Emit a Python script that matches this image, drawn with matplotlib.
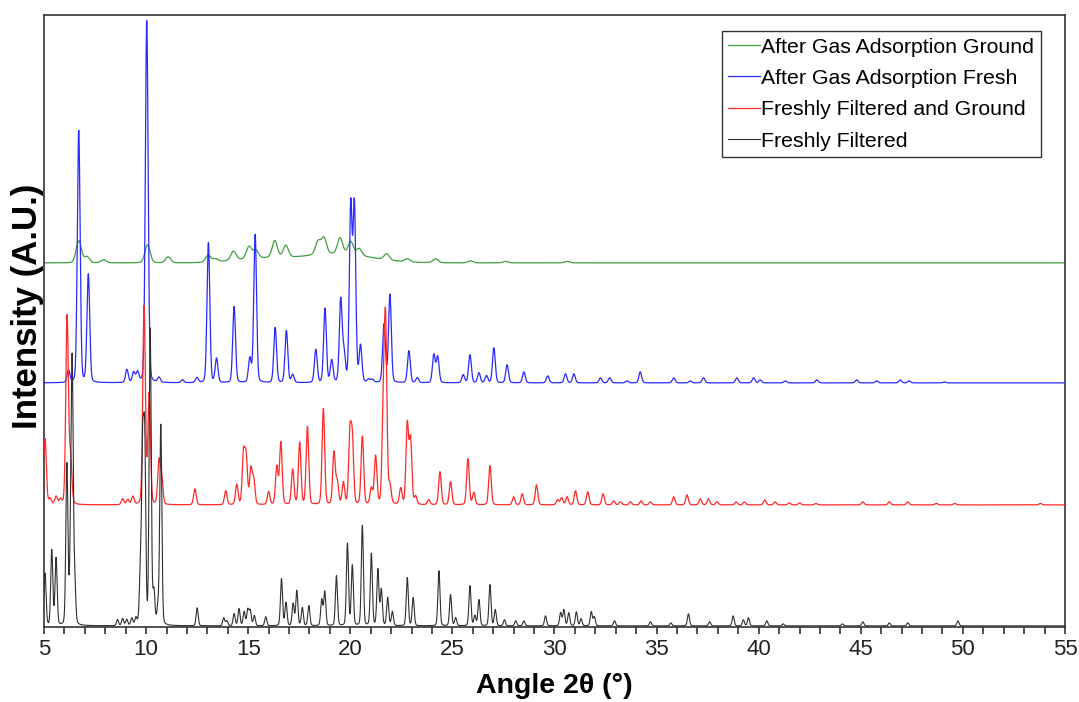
import numpy as np
import matplotlib
matplotlib.use("Agg")
import matplotlib.pyplot as plt
from matplotlib.ticker import MultipleLocator

plt.rcParams['font.family'] = ['Liberation Sans', 'DejaVu Sans']

# peak lists: 2theta position (deg) and height (A.U., pixel-ish scale)
filtered_pos = [5.05, 5.38, 5.59, 6.12, 6.3, 6.38, 6.5, 8.6, 8.85, 9.05, 9.3, 9.5,
                9.72, 9.83, 9.93, 10.2, 10.38, 10.58, 10.72, 12.5, 13.8, 13.95,
                14.31, 14.55, 14.8, 14.98, 15.1, 15.3, 15.86, 16.63, 16.85, 17.2, 17.38,
                17.65, 17.97, 18.6, 18.75, 19.32, 19.86, 20.1, 20.59, 21.03, 21.35,
                21.52, 21.83, 22.06, 22.79, 23.08, 24.34, 24.91, 25.16, 25.86, 26.1,
                26.3, 26.84, 27.1, 27.55, 28.1, 28.5, 29.56, 30.3, 30.46, 30.7, 31.07,
                31.3, 31.8, 31.95, 32.94, 34.7, 35.7, 36.56, 37.6, 38.75, 39.25, 39.5,
                40.4, 41.2, 44.1, 45.1, 46.4, 47.3, 49.76]
filtered_h = [52, 75, 67, 160, 60, 250, 40, 6, 7, 6, 7, 7,
              50, 165, 175, 295, 32, 16, 200, 18, 8, 5,
              12, 17, 14, 16, 15, 10, 9, 47, 23, 22, 35,
              18, 20, 26, 34, 50, 82, 60, 100, 72, 56,
              36, 28, 14, 48, 28, 55, 31, 8, 40, 10,
              26, 41, 16, 6, 5, 5, 10, 13, 16, 13, 14,
              7, 14, 9, 5, 4, 3, 12, 4, 10, 6, 8,
              5, 2, 2, 4, 3, 3, 5]

ground_pos = [5.05, 5.3, 5.59, 5.8, 6.13, 6.3, 8.85, 9.1, 9.35, 9.9, 10.15, 10.63,
              10.76, 12.39, 13.9, 14.44, 14.77, 14.9, 15.13, 15.27, 16.0, 16.4, 16.6,
              17.18, 17.52, 17.9, 18.68, 19.2, 19.36, 19.66, 19.98, 20.1, 20.59, 21.03,
              21.24, 21.62, 21.73, 21.94, 22.47, 22.79, 22.95, 23.2, 23.84, 24.39,
              24.91, 25.76, 26.05, 26.84, 28.0, 28.42, 29.12, 30.15, 30.35, 30.62,
              31.03, 31.63, 32.38, 32.9, 33.23, 33.72, 34.24, 34.7, 35.84, 36.49,
              37.14, 37.54, 37.96, 38.9, 39.3, 40.3, 40.8, 41.5, 42.0, 42.8, 45.1,
              46.4, 47.3, 48.7, 49.6, 53.8]
ground_h = [66, 6, 8, 5, 188, 45, 6, 5, 8, 198, 110, 42,
            26, 16, 14, 20, 50, 46, 35, 24, 13, 38, 62,
            35, 62, 78, 96, 52, 22, 22, 68, 62, 68, 16,
            48, 95, 170, 18, 16, 80, 64, 8, 5, 33,
            23, 46, 12, 39, 8, 11, 20, 5, 7, 8,
            14, 13, 11, 4, 3, 3, 4, 3, 8, 10,
            6, 6, 3, 3, 3, 5, 3, 2, 2, 1.5, 3,
            3, 3, 1.5, 1.5, 1.5]

gas_fresh_pos = [6.2, 6.7, 7.17, 9.06, 9.39, 9.58, 10.03, 10.63, 11.78, 12.49, 13.05,
                 13.45, 14.31, 15.08, 15.34, 16.32, 16.87, 17.18, 18.31, 18.76, 19.09,
                 19.53, 19.69, 20.02, 20.2, 20.5, 20.9, 21.08, 21.65, 21.94, 22.87,
                 23.28, 24.09, 24.28, 25.53, 25.86, 26.3, 26.67, 27.03, 27.68, 28.5,
                 29.67, 30.54, 30.95, 32.25, 32.7, 33.55, 34.2, 35.84, 36.65, 37.3,
                 38.93, 39.75, 40.08, 41.3, 42.85, 44.8, 45.78, 46.93, 47.37, 49.1]
gas_fresh_h = [12, 252, 108, 13, 10, 10, 362, 5, 3, 5, 140,
               24, 76, 24, 148, 55, 52, 8, 33, 74, 22,
               82, 28, 175, 175, 36, 3, 3, 58, 88, 32,
               5, 28, 26, 8, 28, 10, 7, 35, 18, 11,
               7, 9, 9, 5, 5, 2, 11, 5, 2, 5,
               5, 5, 3, 2, 3, 3, 2, 3, 2, 1]

gas_ground_pos = [6.7, 7.1, 7.92, 10.07, 11.08, 13.04, 13.4, 14.28, 15.04, 15.37, 16.3,
                  16.84, 18.42, 18.71, 19.5, 20.02, 20.43, 21.78, 22.79, 24.18, 25.89,
                  27.6, 30.62]
gas_ground_h = [22, 6, 3, 18, 6, 7, 3, 9, 12, 8, 17,
                12, 13, 16, 16, 13, 7, 6, 3, 4, 2,
                1.5, 1.5]
# broad amorphous hump under the ground sample
gas_ground_halo_pos = [15.5, 19.3]
gas_ground_halo_h = [4, 9]
gas_ground_halo_w = [3.0, 4.0]

labels = ["After Gas Adsorption Ground", "After Gas Adsorption Fresh",
          "Freshly Filtered and Ground", "Freshly Filtered"]
offsets = [364, 244, 122, 1]


def pattern(x, pos, h, fwhm):
    y = np.zeros_like(x)
    for c, a in zip(pos, h):
        g = np.exp(-4 * np.log(2) * (x - c) ** 2 / fwhm ** 2)
        l = 1 / (1 + 4 * (x - c) ** 2 / fwhm ** 2)
        y += a * (0.85 * g + 0.15 * l)
    return y


x = np.arange(5, 55.0001, 0.01)
y_filtered = pattern(x, filtered_pos, filtered_h, 0.12)
y_ground = pattern(x, ground_pos, ground_h, 0.15)
y_gas_fresh = pattern(x, gas_fresh_pos, gas_fresh_h, 0.16)
y_gas_ground = pattern(x, gas_ground_pos, gas_ground_h, 0.3)
for c, a, w in zip(gas_ground_halo_pos, gas_ground_halo_h, gas_ground_halo_w):
    y_gas_ground += a * np.exp(-4 * np.log(2) * (x - c) ** 2 / w ** 2)

fig = plt.figure(figsize=(10.79, 7.02), dpi=100)
ax = fig.add_axes([0.0408, 0.107, 0.9462, 0.8718])

ax.plot(x, y_gas_ground + offsets[0], color='#40a040', lw=0.9, label=labels[0], zorder=2)
ax.plot(x, y_gas_fresh + offsets[1], color='#2a2aff', lw=0.9, label=labels[1], zorder=3)
ax.plot(x, y_ground + offsets[2], color='#ff2a2a', lw=0.9, label=labels[2], zorder=4)
ax.plot(x, y_filtered + offsets[3], color='#303030', lw=0.8, label=labels[3], zorder=5)

ax.set_xlim(5, 55)
ax.set_ylim(0, 612)
ax.xaxis.set_major_locator(MultipleLocator(5))
ax.xaxis.set_minor_locator(MultipleLocator(1))
ax.tick_params(axis='x', which='both', direction='out', length=5, width=1.1,
               labelsize=16, pad=4, colors='#222222')
ax.set_yticks([])
for s in ax.spines.values():
    s.set_linewidth(1.2)
    s.set_color('#333333')

ax.set_xlabel("Angle 2θ (°)", fontsize=20.5, fontweight='bold', labelpad=9)
ax.set_ylabel("Intensity (A.U.)", fontsize=25, fontweight='bold')
ax.yaxis.set_label_coords(0.0, 0.523)

leg = ax.legend(loc='upper right', bbox_to_anchor=(0.9765, 0.974), borderaxespad=0,
                fontsize=15.3, handlelength=1.5, handletextpad=0.05, labelspacing=0.58,
                fancybox=False, framealpha=1, edgecolor='#333333', borderpad=0.32)
leg.get_frame().set_linewidth(1.0)

fig.savefig("out.png", dpi=100)
